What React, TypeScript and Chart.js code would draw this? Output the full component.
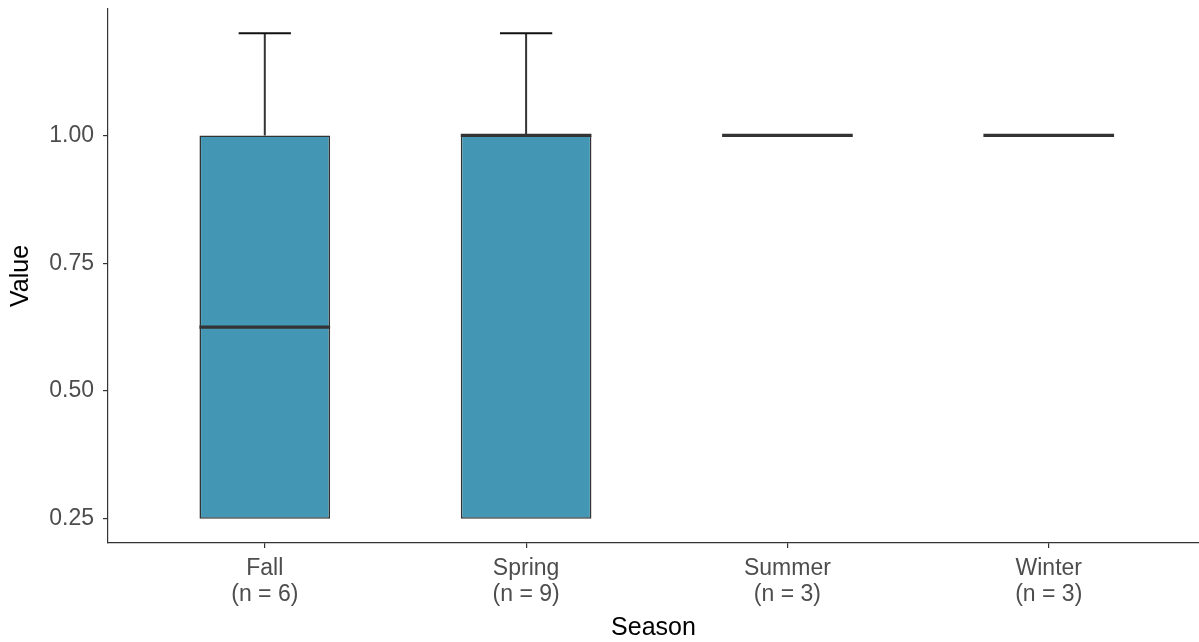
import React, { useEffect, useRef } from "react";
import { Chart, registerables } from "chart.js";

Chart.register(...registerables);

const seasons = ["Fall", "Spring", "Summer", "Winter"];
const counts = [6, 9, 3, 3];
const whiskerLow = [0.25, 0.25, 1.0, 1.0];
const q1 = [0.25, 0.25, 1.0, 1.0];
const median = [0.625, 1.0, 1.0, 1.0];
const q3 = [1.0, 1.0, 1.0, 1.0];
const whiskerHigh = [1.2, 1.2, 1.0, 1.0];
const yTicks = [0.25, 0.5, 0.75, 1.0];

const boxFill = "#4397B5";
const lineColor = "#333333";
const fontFamily = "Liberation Sans, Arial, sans-serif";

const boxPlugin = {
  id: "boxParts",
  afterDatasetsDraw(chart: any) {
    const { ctx, scales } = chart;
    const xs = scales.x;
    const ys = scales.y;
    const unit = xs.getPixelForValue(1) - xs.getPixelForValue(0);
    const boxHalf = unit * 0.25;
    const capHalf = unit * 0.1;
    ctx.save();
    seasons.forEach((_, i) => {
      const cx = xs.getPixelForValue(i);
      const yHi = ys.getPixelForValue(whiskerHigh[i]);
      const yQ3 = ys.getPixelForValue(q3[i]);
      const yQ1 = ys.getPixelForValue(q1[i]);
      const yLo = ys.getPixelForValue(whiskerLow[i]);
      const yMed = ys.getPixelForValue(median[i]);
      ctx.lineWidth = 2;
      if (whiskerHigh[i] > q3[i]) {
        ctx.strokeStyle = lineColor;
        ctx.beginPath();
        ctx.moveTo(cx, yHi);
        ctx.lineTo(cx, yQ3);
        ctx.stroke();
        ctx.strokeStyle = "#111111";
        ctx.beginPath();
        ctx.moveTo(cx - capHalf, yHi);
        ctx.lineTo(cx + capHalf, yHi);
        ctx.stroke();
      }
      if (whiskerLow[i] < q1[i]) {
        ctx.strokeStyle = lineColor;
        ctx.beginPath();
        ctx.moveTo(cx, yLo);
        ctx.lineTo(cx, yQ1);
        ctx.stroke();
        ctx.strokeStyle = "#111111";
        ctx.beginPath();
        ctx.moveTo(cx - capHalf, yLo);
        ctx.lineTo(cx + capHalf, yLo);
        ctx.stroke();
      }
      ctx.strokeStyle = lineColor;
      ctx.lineWidth = 3.2;
      ctx.beginPath();
      ctx.moveTo(cx - boxHalf, yMed);
      ctx.lineTo(cx + boxHalf, yMed);
      ctx.stroke();
    });
    ctx.restore();
  },
};

export default function App() {
  const ref = useRef<HTMLCanvasElement | null>(null);
  useEffect(() => {
    if (!ref.current) return;
    const chart = new Chart(ref.current, {
      type: "bar",
      data: {
        datasets: [
          {
            data: seasons.map((_, i) => ({ x: i, y: [q1[i], q3[i]] })) as any,
            backgroundColor: boxFill,
            borderColor: lineColor,
            borderWidth: 1.6,
            borderSkipped: false,
            barPercentage: 0.5,
            categoryPercentage: 1,
          },
        ],
      },
      options: {
        animation: false,
        responsive: false,
        maintainAspectRatio: false,
        layout: { padding: { top: 9, right: 0, left: 0, bottom: 0 } },
        plugins: { legend: { display: false }, tooltip: { enabled: false } },
        scales: {
          x: {
            type: "linear",
            min: -0.6,
            max: 3.575,
            offset: false,
            afterBuildTicks: (s: any) => {
              s.ticks = seasons.map((_, i) => ({ value: i }));
            },
            afterFit: (s: any) => {
              s.height = 99;
              s.paddingLeft = 0;
              s.paddingRight = 0;
            },
            ticks: {
              autoSkip: false,
              maxRotation: 0,
              padding: 8,
              color: "#4D4D4D",
              font: { family: fontFamily, size: 23, lineHeight: 1.13 },
              callback: (v: any) => {
                const i = Math.round(Number(v));
                return [seasons[i], `(n = ${counts[i]})`];
              },
            },
            grid: {
              offset: false,
              drawOnChartArea: false,
              drawTicks: true,
              tickLength: 5,
              color: lineColor,
              lineWidth: 1.2,
            },
            border: { display: true, color: lineColor, width: 1.2 },
            title: {
              display: true,
              text: "Season",
              color: "#000000",
              font: { family: fontFamily, size: 25, lineHeight: 1.1 },
              padding: { top: 0, bottom: 0 },
            },
          },
          y: {
            type: "linear",
            min: 0.2025,
            max: 1.2475,
            afterBuildTicks: (s: any) => {
              s.ticks = yTicks.map((v) => ({ value: v }));
            },
            afterFit: (s: any) => {
              s.width = 108;
              s.paddingTop = 0;
              s.paddingBottom = 0;
            },
            ticks: {
              padding: 9,
              color: "#4D4D4D",
              font: { family: fontFamily, size: 23 },
              callback: (v: any) => Number(v).toFixed(2),
            },
            grid: {
              drawOnChartArea: false,
              drawTicks: true,
              tickLength: 5,
              color: lineColor,
              lineWidth: 1.2,
            },
            border: { display: true, color: lineColor, width: 1.2 },
            title: {
              display: true,
              text: "Value",
              color: "#000000",
              font: { family: fontFamily, size: 25, lineHeight: 1.2 },
              padding: { top: 6, bottom: 0 },
            },
          },
        },
      },
      plugins: [boxPlugin],
    } as any);
    return () => chart.destroy();
  }, []);
  return (
    <div style={{ position: "fixed", left: 0, top: 0, width: 1199, height: 642, background: "#fff" }}>
      <canvas ref={ref} width={1199} height={642} style={{ display: "block" }} />
    </div>
  );
}
